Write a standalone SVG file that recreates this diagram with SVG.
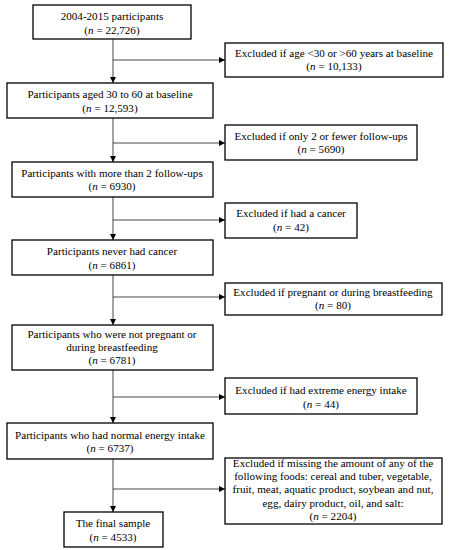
<svg xmlns="http://www.w3.org/2000/svg" width="454" height="550" viewBox="0 0 454 550">
<defs>
<marker id="ah" viewBox="0 0 10 10" refX="10" refY="5" markerWidth="6" markerHeight="6" markerUnits="userSpaceOnUse" orient="auto">
<path d="M0,0 L10,5 L0,10 Z" fill="#000"/>
</marker>
</defs>
<style>
.box{fill:#fff;stroke:#000;stroke-width:1.3}
.t{font-family:"Liberation Serif","Times New Roman",serif;font-size:11.1px;fill:#000;text-anchor:middle}
.c{fill:none;stroke:#333;stroke-width:0.9}
</style>
<rect width="454" height="550" fill="#fff"/>
<g id="connectors">
<line class="c" x1="113" y1="39" x2="113" y2="83" marker-end="url(#ah)"/>
<line class="c" x1="113" y1="60" x2="225" y2="60" marker-end="url(#ah)"/>
<line class="c" x1="113" y1="118" x2="113" y2="162" marker-end="url(#ah)"/>
<line class="c" x1="113" y1="143" x2="225" y2="143" marker-end="url(#ah)"/>
<line class="c" x1="113" y1="197" x2="113" y2="240" marker-end="url(#ah)"/>
<line class="c" x1="113" y1="220" x2="225" y2="220" marker-end="url(#ah)"/>
<line class="c" x1="113" y1="275" x2="113" y2="325" marker-end="url(#ah)"/>
<line class="c" x1="113" y1="297" x2="225" y2="297" marker-end="url(#ah)"/>
<line class="c" x1="113" y1="370" x2="113" y2="423" marker-end="url(#ah)"/>
<line class="c" x1="113" y1="397" x2="225" y2="397" marker-end="url(#ah)"/>
<line class="c" x1="113" y1="459" x2="113" y2="512" marker-end="url(#ah)"/>
<line class="c" x1="113" y1="489" x2="225" y2="489" marker-end="url(#ah)"/>
</g>
<g id="n1">
<rect class="box" x="33" y="5" width="158" height="34"/>
<text class="t" x="112" y="20">2004-2015 participants</text>
<text class="t" x="112" y="34">(<tspan font-style="italic">n</tspan> = 22,726)</text>
</g>
<g id="e1">
<rect class="box" x="225" y="43" width="218" height="34"/>
<text class="t" x="334" y="57">Excluded if age &lt;30 or &gt;60 years at baseline</text>
<text class="t" x="334" y="70">(<tspan font-style="italic">n</tspan> = 10,133)</text>
</g>
<g id="n2">
<rect class="box" x="7" y="83" width="206" height="35"/>
<text class="t" x="110" y="98">Participants aged 30 to 60 at baseline</text>
<text class="t" x="110" y="112">(<tspan font-style="italic">n</tspan> = 12,593)</text>
</g>
<g id="e2">
<rect class="box" x="225" y="125" width="192" height="35"/>
<text class="t" x="321" y="140">Excluded if only 2 or fewer follow-ups</text>
<text class="t" x="321" y="153">(<tspan font-style="italic">n</tspan> = 5690)</text>
</g>
<g id="n3">
<rect class="box" x="12" y="162" width="201" height="35"/>
<text class="t" x="112" y="177">Participants with more than 2 follow-ups</text>
<text class="t" x="112" y="190">(<tspan font-style="italic">n</tspan> = 6930)</text>
</g>
<g id="e3">
<rect class="box" x="225" y="203" width="132" height="35"/>
<text class="t" x="291" y="217">Excluded if had a cancer</text>
<text class="t" x="291" y="231">(<tspan font-style="italic">n</tspan> = 42)</text>
</g>
<g id="n4">
<rect class="box" x="12" y="240" width="201" height="35"/>
<text class="t" x="112" y="255">Participants never had cancer</text>
<text class="t" x="112" y="269">(<tspan font-style="italic">n</tspan> = 6861)</text>
</g>
<g id="e4">
<rect class="box" x="225" y="283" width="217" height="32"/>
<text class="t" x="333" y="296">Excluded if pregnant or during breastfeeding</text>
<text class="t" x="333" y="309">(<tspan font-style="italic">n</tspan> = 80)</text>
</g>
<g id="n5">
<rect class="box" x="12" y="325" width="201" height="45"/>
<text class="t" x="112" y="338">Participants who were not pregnant or</text>
<text class="t" x="112" y="351">during breastfeeding</text>
<text class="t" x="112" y="364">(<tspan font-style="italic">n</tspan> = 6781)</text>
</g>
<g id="e5">
<rect class="box" x="225" y="378" width="192" height="36"/>
<text class="t" x="321" y="394">Excluded if had extreme energy intake</text>
<text class="t" x="321" y="408">(<tspan font-style="italic">n</tspan> = 44)</text>
</g>
<g id="n6">
<rect class="box" x="7" y="423" width="206" height="36"/>
<text class="t" x="110" y="439">Participants who had normal energy intake</text>
<text class="t" x="110" y="452">(<tspan font-style="italic">n</tspan> = 6737)</text>
</g>
<g id="e6">
<rect class="box" x="225" y="458" width="217" height="66"/>
<text class="t" x="333" y="467">Excluded if missing the amount of any of the</text>
<text class="t" x="333" y="480">following foods: cereal and tuber, vegetable,</text>
<text class="t" x="333" y="493">fruit, meat, aquatic product, soybean and nut,</text>
<text class="t" x="333" y="507">egg, dairy product, oil, and salt:</text>
<text class="t" x="333" y="520">(<tspan font-style="italic">n</tspan> = 2204)</text>
</g>
<g id="n7">
<rect class="box" x="64" y="512" width="99" height="35"/>
<text class="t" x="113" y="527">The final sample</text>
<text class="t" x="113" y="541">(<tspan font-style="italic">n</tspan> = 4533)</text>
</g>
</svg>
